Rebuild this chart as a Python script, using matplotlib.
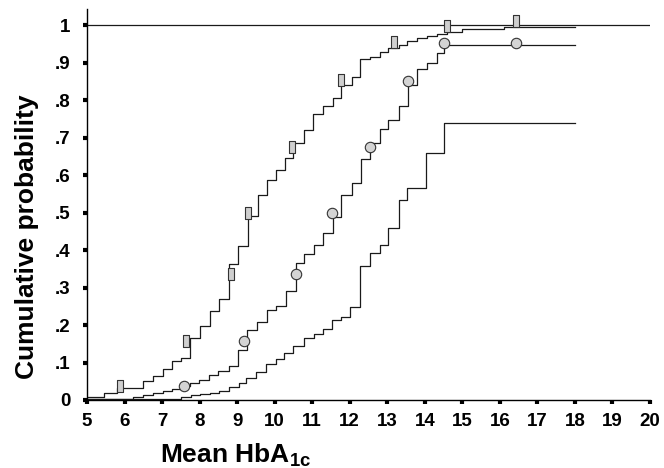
import matplotlib
matplotlib.use("Agg")
import matplotlib.pyplot as plt
from matplotlib.path import Path

plt.rcParams["font.family"] = ["Liberation Sans", "DejaVu Sans"]
plt.rcParams["mathtext.fontset"] = "custom"
plt.rcParams["mathtext.rm"] = "Liberation Sans:bold"

# Step curves (x where the step happens, cumulative probability after it)
a_x = [5.0, 5.45, 5.8, 6.49, 6.75, 7.02, 7.26, 7.5, 7.74, 8.01, 8.27, 8.51,
       8.78, 9.02, 9.28, 9.55, 9.79, 10.03, 10.27, 10.5, 10.78, 11.03, 11.28,
       11.55, 11.78, 12.05, 12.28, 12.55, 12.8, 13.03, 13.3, 13.53, 13.8,
       14.07, 14.33, 14.6, 15.0, 16.1, 18.0]
a_y = [0.008, 0.018, 0.032, 0.05, 0.064, 0.082, 0.105, 0.111, 0.165, 0.198,
       0.238, 0.27, 0.363, 0.41, 0.49, 0.547, 0.587, 0.613, 0.645, 0.685,
       0.72, 0.763, 0.784, 0.805, 0.84, 0.861, 0.91, 0.915, 0.928, 0.94,
       0.947, 0.957, 0.965, 0.972, 0.977, 0.982, 0.989, 0.994, 0.994]

b_x = [5.0, 6.22, 6.49, 6.75, 7.02, 7.26, 7.5, 7.74, 7.98, 8.24, 8.5, 8.78,
       9.02, 9.27, 9.52, 9.79, 10.03, 10.29, 10.56, 10.78, 11.04, 11.3, 11.55,
       11.76, 12.05, 12.29, 12.55, 12.8, 13.03, 13.3, 13.56, 13.8, 14.07,
       14.33, 14.52, 18.0]
b_y = [0.003, 0.008, 0.013, 0.018, 0.024, 0.03, 0.038, 0.045, 0.053, 0.066,
       0.077, 0.09, 0.133, 0.187, 0.208, 0.24, 0.25, 0.29, 0.365, 0.39,
       0.413, 0.445, 0.488, 0.547, 0.578, 0.642, 0.685, 0.724, 0.746, 0.784,
       0.84, 0.883, 0.9, 0.925, 0.947, 0.947]

c_x = [5.0, 7.5, 7.77, 8.0, 8.27, 8.51, 8.78, 9.04, 9.23, 9.5, 9.76, 10.03,
       10.24, 10.5, 10.78, 11.04, 11.28, 11.54, 11.76, 12.02, 12.27, 12.55,
       12.8, 13.03, 13.3, 13.53, 14.04, 14.52, 18.0]
c_y = [0.003, 0.008, 0.013, 0.016, 0.02, 0.024, 0.035, 0.045, 0.058, 0.075,
       0.095, 0.11, 0.125, 0.145, 0.165, 0.175, 0.19, 0.213, 0.222, 0.248,
       0.357, 0.392, 0.413, 0.458, 0.533, 0.565, 0.659, 0.738, 0.738]

# Marker positions
sq_x = [5.88, 7.63, 8.83, 9.28, 10.45, 11.78, 13.19, 14.6, 16.44]
sq_y = [0.037, 0.157, 0.336, 0.5, 0.675, 0.853, 0.955, 0.997, 1.012]
circ_x = [7.58, 9.18, 10.56, 11.54, 12.53, 13.56, 14.52, 16.44]
circ_y = [0.038, 0.157, 0.336, 0.5, 0.675, 0.85, 0.952, 0.952]

x_ticks = list(range(5, 21))
y_ticks = [0, 0.1, 0.2, 0.3, 0.4, 0.5, 0.6, 0.7, 0.8, 0.9, 1.0]
y_labels = ["0", ".1", ".2", ".3", ".4", ".5", ".6", ".7", ".8", ".9", "1"]

fig = plt.figure(figsize=(6.64, 4.68), dpi=100)
ax = fig.add_axes([87 / 664, 1 - 400 / 468, (650 - 87) / 664, (400 - 9) / 468])

line_col = "#1a1a1a"
ax.axhline(1.0, color=line_col, lw=0.9)
for xs, ys in [(a_x, a_y), (b_x, b_y), (c_x, c_y)]:
    ax.step(xs, ys, where="post", color=line_col, lw=0.9)

rect = Path([(-0.22, -0.5), (0.22, -0.5), (0.22, 0.5), (-0.22, 0.5), (-0.22, -0.5)],
            [Path.MOVETO, Path.LINETO, Path.LINETO, Path.LINETO, Path.CLOSEPOLY])
ax.plot(sq_x, sq_y, ls="none", marker=rect, ms=8.5, mfc="#cfcfcf",
        mec="#333333", mew=0.8, zorder=3)
ax.plot(circ_x, circ_y, ls="none", marker="o", ms=7.5, mfc="#d4d4d4",
        mec="#333333", mew=0.8, zorder=3)

ax.set_xlim(5, 20)
ax.set_ylim(0, 1.043)
ax.spines["top"].set_visible(False)
ax.spines["right"].set_visible(False)
ax.spines["left"].set_linewidth(1.0)
ax.spines["bottom"].set_linewidth(1.0)

ax.set_xticks(x_ticks)
ax.set_xticklabels([str(t) for t in x_ticks], fontsize=13.5, fontweight="bold")
ax.set_yticks(y_ticks)
ax.set_yticklabels(y_labels, fontsize=13.5, fontweight="bold")
ax.tick_params(axis="both", direction="out", length=3, width=3, color="black")
ax.tick_params(axis="y", pad=9)
ax.tick_params(axis="x", pad=6)

fig.text(27 / 664, 1 - 237 / 468, "Cumulative probability", rotation=90,
         ha="center", va="center", fontsize=19, fontweight="bold")
fig.text(236 / 664, 1 - 455 / 468, r"Mean HbA$_{\mathrm{1c}}$", ha="center",
         va="center", fontsize=19, fontweight="bold")

fig.savefig("out.png", dpi=100)
